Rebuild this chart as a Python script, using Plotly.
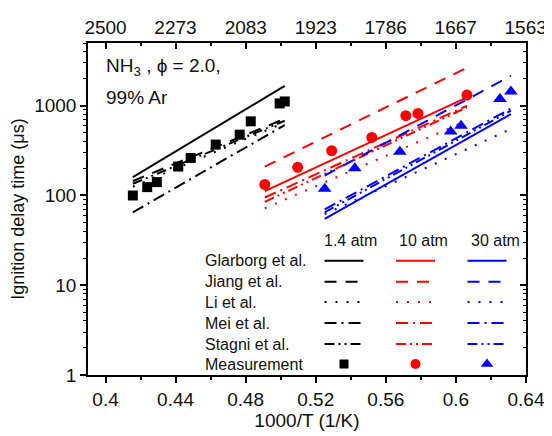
import plotly.graph_objects as go

# ---------------- data ----------------
# Measurements (1000/T in 1/K, IDT in microseconds)
meas14_x = [0.4156, 0.4238, 0.4293, 0.4415, 0.4486, 0.4629, 0.4766, 0.4829, 0.4994, 0.5023]
meas14_y = [100, 124, 141, 210, 262, 369, 476, 670, 1061, 1116]
meas10_x = [0.4909, 0.5097, 0.5291, 0.5520, 0.5714, 0.5783, 0.6063]
meas10_y = [133, 206, 316, 444, 774, 821, 1315]
meas30_x = [0.5251, 0.5423, 0.5680, 0.5970, 0.6029, 0.6251, 0.6314]
meas30_y = [119, 201, 308, 518, 600, 1186, 1442]

# Model predictions (end points of each simulated line)
sim14_x = [0.4156, 0.5023]
sim10_x = [0.4909, 0.6063]
sim30_x = [0.5251, 0.6314]
glarborg14 = [160, 1667]
jiang14 = [145, 715]
li14 = [125, 650]
mei14 = [65, 610]
stagni14 = [135, 680]
glarborg10 = [112, 1240]
jiang10 = [210, 2650]
li10 = [72, 680]
mei10 = [95, 1000]
stagni10 = [85, 960]
glarborg30 = [55, 808]
jiang30 = [167, 2150]
li30 = [62, 551]
mei30 = [70, 930]
stagni30 = [65, 880]

models = ["Glarborg et al.", "Jiang et al.", "Li et al.", "Mei et al.", "Stagni et al."]
pressures = ["1.4 atm", "10 atm", "30 atm"]
top_tick_labels = [2500, 2273, 2083, 1923, 1786, 1667, 1563]
bottom_ticks = [0.4, 0.44, 0.48, 0.52, 0.56, 0.6, 0.64]
bottom_minor = [0.42, 0.46, 0.50, 0.54, 0.58, 0.62]
y_ticks = [1, 10, 100, 1000]

# ---------------- styles ----------------
colors = ["#000000", "#ff0000", "#0000ff"]
dashes = ["solid", "12px,9px", "2px,9px", "12px,5px,2px,5px", "10px,4px,2px,4px,2px,4px"]
symbols = ["square", "circle", "triangle-up"]
msizes = [10, 11, 12]
FONT = "Liberation Sans, Arial, sans-serif"

sim_x = [sim14_x, sim10_x, sim30_x]
sim_y = [
    [glarborg14, jiang14, li14, mei14, stagni14],
    [glarborg10, jiang10, li10, mei10, stagni10],
    [glarborg30, jiang30, li30, mei30, stagni30],
]
meas_x = [meas14_x, meas10_x, meas30_x]
meas_y = [meas14_y, meas10_y, meas30_y]

fig = go.Figure()

for p in range(3):
    for m in range(5):
        fig.add_trace(go.Scatter(x=sim_x[p], y=sim_y[p][m], mode="lines",
                                 line=dict(color=colors[p], width=2, dash=dashes[m]),
                                 showlegend=False, hoverinfo="skip"))
for p in range(3):
    fig.add_trace(go.Scatter(x=meas_x[p], y=meas_y[p], mode="markers",
                             marker=dict(symbol=symbols[p], size=msizes[p], color=colors[p],
                                         line=dict(width=0)),
                             showlegend=False))

# dummy trace for the mirrored (top / right) axes
fig.add_trace(go.Scatter(x=[None], y=[None], xaxis="x2", yaxis="y2", showlegend=False))

# ---------------- page geometry ----------------
# the browser's default 8px body margin offsets the figure
OFF = 8
W, H = 552 - OFF, 436 - OFF
# plot frame in window pixels
PL, PR, PT, PB = 88, 526, 43, 375

# ---------------- custom legend table (pixel-like overlay axes) ----------------
leg_label_x = 203
leg_row_y = [260.7, 281.7, 302, 323, 344, 364]
leg_col_x = [344, 415.5, 487]
leg_half = 19.5
leg_head_x = [350, 423, 495]
leg_head_y = 240

for p in range(3):
    for m in range(5):
        fig.add_trace(go.Scatter(x=[leg_col_x[p] - leg_half, leg_col_x[p] + leg_half],
                                 y=[leg_row_y[m], leg_row_y[m]], mode="lines",
                                 line=dict(color=colors[p], width=2, dash=dashes[m]),
                                 xaxis="x3", yaxis="y3", showlegend=False, hoverinfo="skip"))
    fig.add_trace(go.Scatter(x=[leg_col_x[p]], y=[leg_row_y[5]], mode="markers",
                             marker=dict(symbol=symbols[p], size=msizes[p] - 1, color=colors[p]),
                             xaxis="x3", yaxis="y3", showlegend=False, hoverinfo="skip"))

annotations = []
for i, name in enumerate(models + ["Measurement"]):
    annotations.append(dict(x=leg_label_x, y=leg_row_y[i], xref="x3", yref="y3", text=name,
                            showarrow=False, xanchor="left", yanchor="middle",
                            font=dict(family=FONT, size=16, color="#111")))
for p, lab in enumerate(pressures):
    annotations.append(dict(x=leg_head_x[p], y=leg_head_y, xref="x3", yref="y3", text=lab,
                            showarrow=False, xanchor="center", yanchor="middle",
                            font=dict(family=FONT, size=16, color="#111")))
annotations.append(dict(x=104, y=67, xref="x3", yref="y3", text="NH<sub>3</sub> , ϕ = 2.0,",
                        showarrow=False, xanchor="left", yanchor="middle",
                        font=dict(family=FONT, size=19, color="#111")))
annotations.append(dict(x=104, y=97, xref="x3", yref="y3", text="99% Ar",
                        showarrow=False, xanchor="left", yanchor="middle",
                        font=dict(family=FONT, size=19, color="#111")))

XR = [0.39, 0.64]
YR = [0, 3.699]
tickfont = dict(family=FONT, size=19, color="#111")

fig.update_layout(
    width=W, height=H,
    margin=dict(l=PL - OFF, r=W - (PR - OFF), t=PT - OFF, b=H - (PB - OFF), autoexpand=False),
    paper_bgcolor="white", plot_bgcolor="white",
    showlegend=False,
    annotations=annotations,
    xaxis=dict(range=XR, tickmode="array", tickvals=bottom_ticks,
               ticktext=[f"{v:g}" for v in bottom_ticks],
               ticks="outside", ticklen=6, tickwidth=1.5, tickcolor="black",
               minor=dict(tickmode="array", tickvals=bottom_minor, ticks="outside",
                          ticklen=3, tickwidth=1.5, tickcolor="black", showgrid=False),
               showline=True, linecolor="black", linewidth=1.5, showgrid=False, zeroline=False,
               tickfont=tickfont,
               title=dict(text="1000/T (1/K)", font=dict(family=FONT, size=19, color="#111"),
                          standoff=5)),
    yaxis=dict(type="log", range=YR, tickmode="array", tickvals=y_ticks,
               ticktext=[str(v) for v in y_ticks],
               ticks="outside", ticklen=6, tickwidth=1.5, tickcolor="black",
               minor=dict(dtick="D1", ticks="outside", ticklen=3, tickwidth=1,
                          tickcolor="black", showgrid=False),
               showline=True, linecolor="black", linewidth=1.5, showgrid=False, zeroline=False,
               tickfont=tickfont,
               title=dict(text="Ignition delay time (μs)",
                          font=dict(family=FONT, size=18, color="#111"), standoff=8)),
    xaxis2=dict(overlaying="x", side="top", range=XR, tickmode="array",
                tickvals=[1000 / t for t in top_tick_labels],
                ticktext=[str(t) for t in top_tick_labels],
                ticks="inside", ticklen=6, tickwidth=1.5, tickcolor="black",
                minor=dict(tickmode="array", tickvals=bottom_minor, ticks="inside",
                           ticklen=3, tickwidth=1.5, tickcolor="black", showgrid=False),
                showline=True, linecolor="black", linewidth=1.5, showgrid=False, zeroline=False,
                tickfont=tickfont),
    yaxis2=dict(overlaying="y", side="right", type="log", range=YR, tickmode="array",
                tickvals=y_ticks, showticklabels=False,
                ticks="inside", ticklen=6, tickwidth=1.5, tickcolor="black",
                minor=dict(dtick="D1", ticks="inside", ticklen=3, tickwidth=1,
                           tickcolor="black", showgrid=False),
                showline=True, linecolor="black", linewidth=1.5, showgrid=False, zeroline=False),
    xaxis3=dict(overlaying="x", range=[PL, PR], visible=False, fixedrange=True),
    yaxis3=dict(overlaying="y", range=[PB, PT], visible=False, fixedrange=True),
)

fig.write_html("out.html")
